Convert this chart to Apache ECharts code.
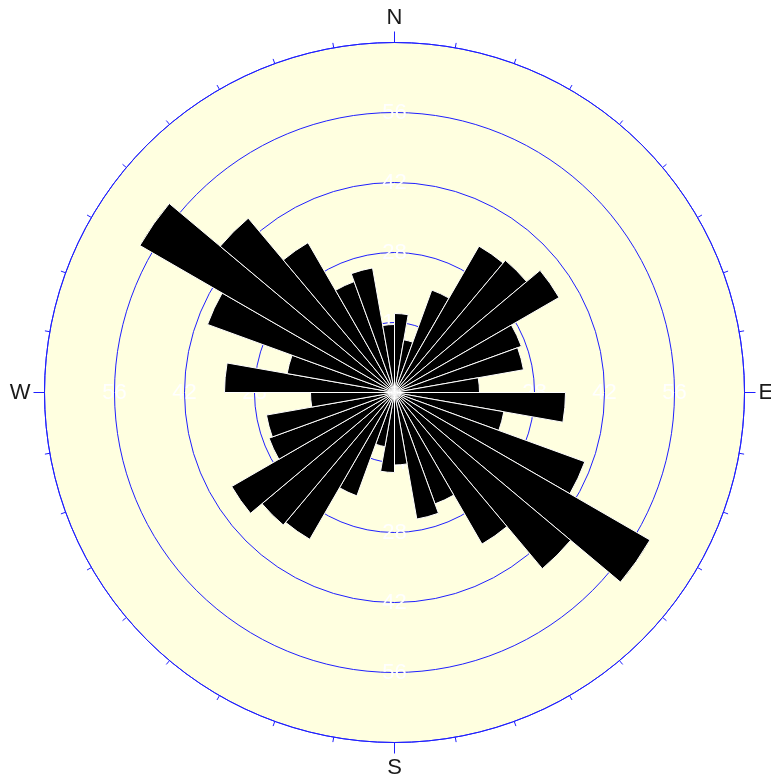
<!DOCTYPE html>
<html><head><meta charset="utf-8">
<script src="https://cdn.jsdelivr.net/npm/echarts@6/dist/echarts.min.js"></script>
<style>html,body{margin:0;padding:0;background:#fff}#c{width:771px;height:778px}</style>
</head><body><div id="c"></div>
<script>
// 10-degree direction bins, clockwise from North
const binLabels = ['0-10','10-20','20-30','30-40','40-50','50-60','60-70','70-80','80-90',
  '90-100','100-110','110-120','120-130','130-140','140-150','150-160','160-170','170-180',
  '180-190','190-200','200-210','210-220','220-230','230-240','240-250','250-260','260-270',
  '270-280','280-290','290-300','300-310','310-320','320-330','330-340','340-350','350-360'];
// bar lengths
const binValues = [15.8, 10.7, 21.8, 33.8, 34.5, 38.0, 27.0, 26.2, 17.0,
  34.2, 22.2, 40.5, 59.0, 46.0, 35.0, 23.7, 25.7, 14.5,
  16.0, 11.0, 22.0, 33.9, 34.6, 37.6, 26.7, 26.0, 16.8,
  34.0, 21.8, 39.8, 58.8, 45.5, 34.6, 23.6, 25.3, 13.6];
const radiusMax = 70;
const ringStep = 14;
const compassLabels = ['N', 'E', 'S', 'W'];

const BLUE = '#1f1fff';
const CENTER = [394.5, 392.5];
const R = 350;

const chart = echarts.init(document.getElementById('c'), null, {renderer: 'canvas'});

const ringLabel = {
  show: true, color: '#ffffff', fontSize: 22, fontFamily: 'Liberation Sans, Arial, sans-serif',
  margin: 0, align: 'center', verticalAlign: 'middle', hideOverlap: false,
  formatter: v => (v === 0 || v === radiusMax) ? '' : String(v)
};

const labelDirs = [0, 270, 180]; // E, S, W (N handled by main polar)

const polar = [
  {center: CENTER, radius: R}, // bars, rings
  {center: CENTER, radius: R}, // compass ticks + labels
  {center: CENTER, radius: R}  // background fill
];
const angleAxis = [
  {
    polarIndex: 0, type: 'category', data: binLabels, startAngle: 90, boundaryGap: true, z: 2,
    axisLine: {show: true, lineStyle: {color: BLUE, width: 1}},
    axisTick: {show: true, interval: 0, inside: false, length: 5, lineStyle: {color: BLUE, width: 1}},
    axisLabel: {show: false}, splitLine: {show: false}, splitArea: {show: false}
  },
  {
    polarIndex: 1, type: 'value', min: 0, max: 360, interval: 90, startAngle: 90, z: 2,
    axisLine: {show: false},
    axisTick: {show: true, inside: false, length: 11, lineStyle: {color: BLUE, width: 1}},
    axisLabel: {
      show: true, margin: 14, fontSize: 22, color: '#1a1a1a',
      fontFamily: 'Liberation Sans, Arial, sans-serif',
      formatter: v => (v % 360 === 0 && v !== 0) ? '' : compassLabels[Math.round(v / 90) % 4]
    },
    splitLine: {show: false}
  },
  {polarIndex: 2, type: 'value', min: 0, max: 360, startAngle: 90, show: false}
];
const radiusAxis = [
  {
    polarIndex: 0, type: 'value', min: 0, max: radiusMax, interval: ringStep, z: 2,
    axisLine: {show: false}, axisTick: {show: false},
    axisLabel: ringLabel,
    splitLine: {show: true, lineStyle: {color: BLUE, width: 1}},
    splitArea: {show: false}
  },
  {polarIndex: 1, type: 'value', min: 0, max: radiusMax, show: false},
  {
    polarIndex: 2, type: 'value', min: 0, max: radiusMax, interval: radiusMax, z: 0,
    axisLine: {show: false}, axisTick: {show: false}, axisLabel: {show: false},
    splitLine: {show: false},
    splitArea: {show: true, areaStyle: {color: ['#ffffe0']}}
  }
];
labelDirs.forEach((d, i) => {
  const idx = i + 3;
  polar.push({center: CENTER, radius: R});
  angleAxis.push({polarIndex: idx, type: 'value', min: 0, max: 360, startAngle: d, show: false});
  radiusAxis.push({
    polarIndex: idx, type: 'value', min: 0, max: radiusMax, interval: ringStep, z: 2,
    axisLine: {show: false}, axisTick: {show: false}, splitLine: {show: false},
    axisLabel: ringLabel
  });
});

chart.setOption({
  animation: false,
  backgroundColor: '#ffffff',
  polar, angleAxis, radiusAxis,
  series: [{
    type: 'bar', coordinateSystem: 'polar', polarIndex: 0,
    data: binValues, barCategoryGap: '0%', barGap: '0%',
    itemStyle: {color: '#000000', borderColor: '#ffffff', borderWidth: 1},
    silent: true, z: 5
  }]
});
</script>
</body></html>
